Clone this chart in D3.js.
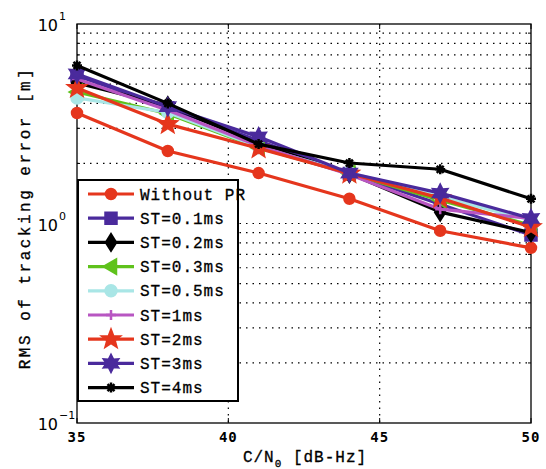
<!DOCTYPE html>
<html><head><meta charset="utf-8">
<script src="https://cdn.jsdelivr.net/npm/d3@7"></script>
<style>body{margin:0;background:#fff}svg{display:block}</style>
</head><body>
<script>
const cn0 = [35, 38, 41, 44, 47, 50];
const withoutPR = [3.58, 2.31, 1.79, 1.33, 0.92, 0.755];
const st01 = [5.5, 3.8, 2.6, 1.78, 1.25, 0.875];
const st02 = [5.06, 3.9, 2.5, 1.78, 1.14, 0.90];
const st03 = [4.56, 3.55, 2.4, 1.78, 1.31, 0.98];
const st05 = [4.26, 3.6, 2.42, 1.8, 1.36, 1.04];
const st1 = [5.3, 3.7, 2.45, 1.76, 1.18, 1.06];
const st2 = [4.78, 3.15, 2.38, 1.78, 1.34, 0.96];
const st3 = [5.62, 3.85, 2.72, 1.79, 1.42, 1.06];
const st4 = [6.2, 4.0, 2.5, 2.01, 1.87, 1.33];
const seriesNames = ["Without PR","ST=0.1ms","ST=0.2ms","ST=0.3ms","ST=0.5ms","ST=1ms","ST=2ms","ST=3ms","ST=4ms"];
const xTicks = [35, 40, 45, 50];
const yMajor = [0.1, 1, 10];

const W = 546, H = 469;
const m = {l: 77, r: 531, t: 24, b: 423};
const svg = d3.select("body").append("svg").attr("width", W).attr("height", H);
const x = d3.scaleLinear().domain([35, 50]).range([m.l, m.r]);
const y = d3.scaleLog().domain([0.1, 10]).range([m.b, m.t]);

const colors = ["#e5361d","#4a2a9c","#000000","#5fc21c","#a9e6e6","#b856c2","#e5361d","#4a2a9c","#000000"];
const data = [withoutPR, st01, st02, st03, st05, st1, st2, st3, st4];

function starPath(n, ro, ri){
  let p=[];
  for(let i=0;i<2*n;i++){const r=i%2?ri:ro;const a=-Math.PI/2+i*Math.PI/n;p.push([r*Math.cos(a),r*Math.sin(a)]);}
  return "M"+p.map(q=>q.join(",")).join("L")+"Z";
}
const markers = [
  {d:"M-5,0A5,5 0 1,0 5,0A5,5 0 1,0 -5,0Z", fill:true},
  {d:"M-5.5,-5.5H5.5V5.5H-5.5Z", fill:true},
  {d:"M0,-8L5,0L0,8L-5,0Z", fill:true},
  {d:"M-7,0L5,-7L5,7Z", fill:true},
  {d:"M-5.5,0A5.5,5.5 0 1,0 5.5,0A5.5,5.5 0 1,0 -5.5,0Z", fill:true},
  {d:"M-5,0H5M0,-5V5", fill:false},
  {d:starPath(5,9,3.8), fill:true},
  {d:starPath(6,8,4.3), fill:true},
  {d:"M-5,0H5M0,-5V5M-3.5,-3.5L3.5,3.5M-3.5,3.5L3.5,-3.5", fill:false, sw:2.5}
];

const g = svg.append("g");
const minor = [];
[0.1,1].forEach(d=>{for(let k=2;k<=9;k++) minor.push(d*k);});
[...minor, 1].forEach(v=>{
  g.append("line").attr("x1",m.l).attr("x2",m.r).attr("y1",y(v)).attr("y2",y(v))
   .attr("stroke","#000").attr("stroke-width",1.2).attr("stroke-dasharray","1.5,5");
});
[40,45].forEach(v=>{
  g.append("line").attr("x1",x(v)).attr("x2",x(v)).attr("y1",m.t).attr("y2",m.b)
   .attr("stroke","#000").attr("stroke-width",1.2).attr("stroke-dasharray","1.5,5");
});
[...minor, 1].forEach(v=>{
  g.append("line").attr("x1",m.l).attr("x2",m.l+(minor.includes(v)?3:5)).attr("y1",y(v)).attr("y2",y(v)).attr("stroke","#000");
  g.append("line").attr("x1",m.r).attr("x2",m.r-(minor.includes(v)?3:5)).attr("y1",y(v)).attr("y2",y(v)).attr("stroke","#000");
});
xTicks.forEach(v=>{
  g.append("line").attr("x1",x(v)).attr("x2",x(v)).attr("y1",m.b).attr("y2",m.b-5).attr("stroke","#000");
  g.append("line").attr("x1",x(v)).attr("x2",x(v)).attr("y1",m.t).attr("y2",m.t+5).attr("stroke","#000");
});
svg.append("rect").attr("x",m.l).attr("y",m.t).attr("width",m.r-m.l).attr("height",m.b-m.t)
  .attr("fill","none").attr("stroke","#000").attr("stroke-width",1.3);

const tf = "'DejaVu Sans Mono', monospace";
xTicks.forEach(v=>{
  svg.append("text").attr("x",x(v)).attr("y",442).attr("text-anchor","middle")
    .attr("font-family",tf).attr("font-size",14).attr("font-weight","bold").attr("letter-spacing",1).text(v);
});
yMajor.forEach(v=>{
  const e = Math.round(Math.log10(v));
  svg.append("text").attr("x",58).attr("y",y(v)+7).attr("text-anchor","end")
    .attr("font-family","'DejaVu Sans', sans-serif").attr("font-size",16).text("10");
  svg.append("text").attr("x",59).attr("y",y(v)-4).attr("text-anchor","start")
    .attr("font-family","'DejaVu Sans', sans-serif").attr("font-size",11).text(String(e).replace("-","\u2212"));
});

const line = d3.line().x((d,i)=>x(cn0[i])).y(d=>y(d));
data.forEach((s,k)=>{
  svg.append("path").datum(s).attr("d",line).attr("fill","none")
    .attr("stroke",colors[k]).attr("stroke-width",3.2).attr("stroke-linejoin","round");
  s.forEach((v,i)=>{
    const mk = markers[k];
    svg.append("path").attr("d",mk.d).attr("transform",`translate(${x(cn0[i])},${y(v)})`)
      .attr("fill",mk.fill?colors[k]:"none").attr("stroke",colors[k]).attr("stroke-width",mk.sw||2.5);
  });
});

const lg = svg.append("g");
lg.append("rect").attr("x",78).attr("y",180).attr("width",160).attr("height",221)
  .attr("fill","#fff").attr("stroke","#000").attr("stroke-width",2);
seriesNames.forEach((n,k)=>{
  const yy = 194 + k*24.2;
  lg.append("line").attr("x1",88).attr("x2",134).attr("y1",yy).attr("y2",yy)
    .attr("stroke",colors[k]).attr("stroke-width",3.2);
  const mk = markers[k];
  lg.append("path").attr("d",mk.d).attr("transform",`translate(111,${yy})`)
    .attr("fill",mk.fill?colors[k]:"none").attr("stroke",colors[k]).attr("stroke-width",mk.sw||2.5);
  lg.append("text").attr("x",140).attr("y",yy+5.5).attr("font-family","'Liberation Mono', monospace")
    .attr("font-size",16).attr("letter-spacing",1).attr("stroke","#000").attr("stroke-width",0.3).text(n);
});

svg.append("text").attr("transform","translate(30,218) rotate(-90)").attr("text-anchor","middle")
  .attr("font-family","'Liberation Mono', monospace").attr("font-size",16).attr("letter-spacing",2.5)
  .attr("stroke","#000").attr("stroke-width",0.3)
  .text("RMS of tracking error [m]");
const xl = svg.append("text").attr("x",305).attr("y",462).attr("text-anchor","middle")
  .attr("font-family","'Liberation Mono', monospace").attr("font-size",16).attr("letter-spacing",1)
  .attr("stroke","#000").attr("stroke-width",0.3);
xl.append("tspan").text("C/N");
xl.append("tspan").attr("dy",5).attr("font-size",11).text("0");
xl.append("tspan").attr("dy",-5).text("  [dB-Hz]");
</script>
</body></html>
